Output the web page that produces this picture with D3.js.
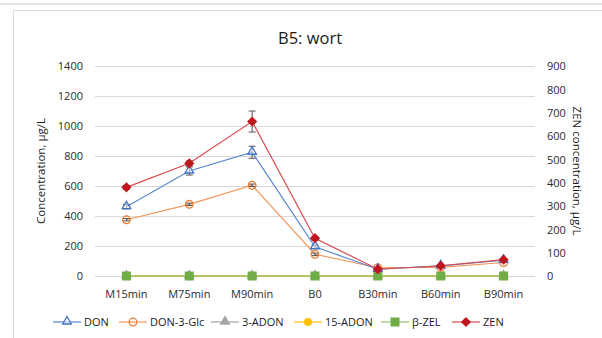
<!DOCTYPE html>
<html>
<head>
<meta charset="utf-8">
<script src="https://cdn.jsdelivr.net/npm/d3@7"></script>
<style>
  body { margin: 0; background: #fff; }
  svg text { font-family: "Open Sans", "Liberation Sans", sans-serif; fill: #2b2b2b; }
</style>
</head>
<body>
<svg id="chart" width="602" height="338"></svg>
<script>
// data
var categories = ["M15min", "M75min", "M90min", "B0", "B30min", "B60min", "B90min"];
var don      = [462, 700, 825, 195, 45, 68, 105];
var donErr   = [15, 27, 40, 12, 5, 5, 6];
var donGlc   = [375, 478, 605, 145, 55, 58, 90];
var donGlcErr= [8, 8, 8, 8, 5, 5, 5];
var adon3    = [0, 0, 0, 0, 0, 0, 0];
var adon15   = [0, 0, 0, 0, 0, 0, 0];
var bzel     = [0, 0, 0, 0, 0, 0, 0];
var zen      = [380, 483, 662, 162, 29, 44, 70];   // right axis
var zenErr   = [8, 10, 45, 8, 4, 4, 4];
var leftTicks  = [0, 200, 400, 600, 800, 1000, 1200, 1400];
var rightTicks = [0, 100, 200, 300, 400, 500, 600, 700, 800, 900];

var svg = d3.select("#chart");

var plot = { left: 95, right: 535, top: 66, bottom: 276 };

// chart frame (cut by window, like in the screenshot)
svg.append("line").attr("x1", 0).attr("x2", 602).attr("y1", 4).attr("y2", 4)
	.attr("stroke", "#e4e4e4").attr("stroke-width", 2);
svg.append("path").attr("d", "M13.5 338 L13.5 10.5 L602 10.5")
	.attr("fill", "none").attr("stroke", "#d9d9d9").attr("stroke-width", 1);

var x = d3.scaleBand().domain(categories).range([plot.left, plot.right]);
var yL = d3.scaleLinear().domain([0, 1400]).range([plot.bottom, plot.top]);
var yR = d3.scaleLinear().domain([0, 900]).range([plot.bottom, plot.top]);
var cx = function(i) { return x(categories[i]) + x.bandwidth() / 2; };

// gridlines
svg.append("g").selectAll("line").data(leftTicks).enter().append("line")
	.attr("x1", plot.left).attr("x2", plot.right)
	.attr("y1", function(d) { return Math.round(yL(d)) + 0.5; })
	.attr("y2", function(d) { return Math.round(yL(d)) + 0.5; })
	.attr("stroke", "#d9d9d9").attr("stroke-width", 1.2);

// left axis
var axL = svg.append("g").attr("transform", "translate(" + (plot.left - 12) + ",0)")
	.call(d3.axisLeft(yL).tickValues(leftTicks).tickFormat(d3.format("d")).tickSize(0).tickPadding(0));
axL.select(".domain").remove();
axL.selectAll("text").attr("font-size", 11).attr("dy", "0.35em");

// right axis
var axR = svg.append("g").attr("transform", "translate(" + (plot.right + 12) + ",0)")
	.call(d3.axisRight(yR).tickValues(rightTicks).tickFormat(d3.format("d")).tickSize(0).tickPadding(0));
axR.select(".domain").remove();
axR.selectAll("text").attr("font-size", 11).attr("dy", "0.35em");

// bottom axis labels
var axB = svg.append("g").attr("transform", "translate(0," + plot.bottom + ")")
	.call(d3.axisBottom(x).tickSize(0).tickPadding(14));
axB.select(".domain").remove();
axB.selectAll("text").attr("font-size", 11);

// titles
svg.append("text").attr("x", 310).attr("y", 44).attr("text-anchor", "middle")
	.attr("font-size", 16.5).style("fill", "#1a1a1a").text("B5: wort");
svg.append("text").attr("transform", "translate(45,171) rotate(-90)")
	.attr("text-anchor", "middle").attr("font-size", 11.5).style("fill", "#1a1a1a")
	.text("Concentration, µg/L");
svg.append("text").attr("transform", "translate(573,171) rotate(90)")
	.attr("text-anchor", "middle").attr("font-size", 11.5).style("fill", "#1a1a1a")
	.text("ZEN concentration, µg/L");

var series = [
	{ name: "DON", values: don, err: donErr, scale: yL, line: "#5b87cf", color: "#4472c4", marker: "triangleOpen" },
	{ name: "DON-3-Glc", values: donGlc, err: donGlcErr, scale: yL, line: "#f0975a", color: "#ed7d31", marker: "circleOpen" },
	{ name: "3-ADON", values: adon3, err: null, scale: yL, line: "#a5a5a5", color: "#a5a5a5", marker: "triangle" },
	{ name: "15-ADON", values: adon15, err: null, scale: yL, line: "#ffc000", color: "#ffc000", marker: "circle" },
	{ name: "β-ZEL", values: bzel, err: null, scale: yL, line: "#8fc06a", color: "#70ad47", marker: "square" },
	{ name: "ZEN", values: zen, err: zenErr, scale: yR, line: "#dc4b50", color: "#c0161d", marker: "diamond" }
];

function drawMarker(g, type, color, px, py) {
	if (type === "triangleOpen" || type === "triangle") {
		g.append("path")
			.attr("d", d3.symbol().type(d3.symbolTriangle).size(32)())
			.attr("transform", "translate(" + px + "," + (py - 0.5) + ")")
			.attr("fill", type === "triangle" ? color : "rgba(255,255,255,0.5)")
			.attr("stroke", color).attr("stroke-width", 1.3);
	} else if (type === "circleOpen") {
		g.append("circle").attr("cx", px).attr("cy", py).attr("r", 3.8)
			.attr("fill", "none").attr("stroke", color).attr("stroke-width", 1.3);
	} else if (type === "circle") {
		g.append("circle").attr("cx", px).attr("cy", py).attr("r", 4).attr("fill", color);
	} else if (type === "square") {
		g.append("rect").attr("x", px - 4.5).attr("y", py - 4.5)
			.attr("width", 9).attr("height", 9).attr("fill", color);
	} else if (type === "diamond") {
		g.append("rect").attr("x", -3.6).attr("y", -3.6).attr("width", 7.2).attr("height", 7.2)
			.attr("transform", "translate(" + px + "," + py + ") rotate(45)").attr("fill", color);
	}
}

// draw the zero series first, then DON-3-Glc, DON, ZEN on top
var order = [2, 3, 4, 1, 0, 5];
order.forEach(function(k) {
	var s = series[k];
	var g = svg.append("g");
	var line = d3.line()
		.x(function(d, i) { return cx(i); })
		.y(function(d) { return s.scale(d); });
	g.append("path").datum(s.values).attr("d", line)
		.attr("fill", "none").attr("stroke", s.line).attr("stroke-width", 1.2);
	if (s.err) {
		s.values.forEach(function(v, i) {
			var e = s.err[i];
			if (e < 6) return;
			var y0 = s.scale(v - e), y1 = s.scale(v + e);
			g.append("path")
				.attr("d", "M" + cx(i) + " " + y0 + "L" + cx(i) + " " + y1 +
					"M" + (cx(i) - 3.5) + " " + y0 + "L" + (cx(i) + 3.5) + " " + y0 +
					"M" + (cx(i) - 3.5) + " " + y1 + "L" + (cx(i) + 3.5) + " " + y1)
				.attr("stroke", "#555").attr("stroke-width", 1).attr("fill", "none");
		});
	}
	s.values.forEach(function(v, i) {
		drawMarker(g, s.marker, s.color, cx(i), s.scale(v));
	});
});

// legend
var legendX = [53, 119, 211, 294, 381, 452];
var legend = svg.append("g").attr("transform", "translate(0,322)");
series.forEach(function(s, i) {
	var lx = legendX[i];
	legend.append("line").attr("x1", lx).attr("x2", lx + 28).attr("y1", 0).attr("y2", 0)
		.attr("stroke", s.line).attr("stroke-width", 1.2);
	drawMarker(legend, s.marker, s.color, lx + 14, 0);
	legend.append("text").attr("x", lx + 31).attr("y", 0).attr("dy", "0.35em")
		.attr("font-size", 11).style("fill", "#1a1a1a").text(s.name);
});
</script>
</body>
</html>
